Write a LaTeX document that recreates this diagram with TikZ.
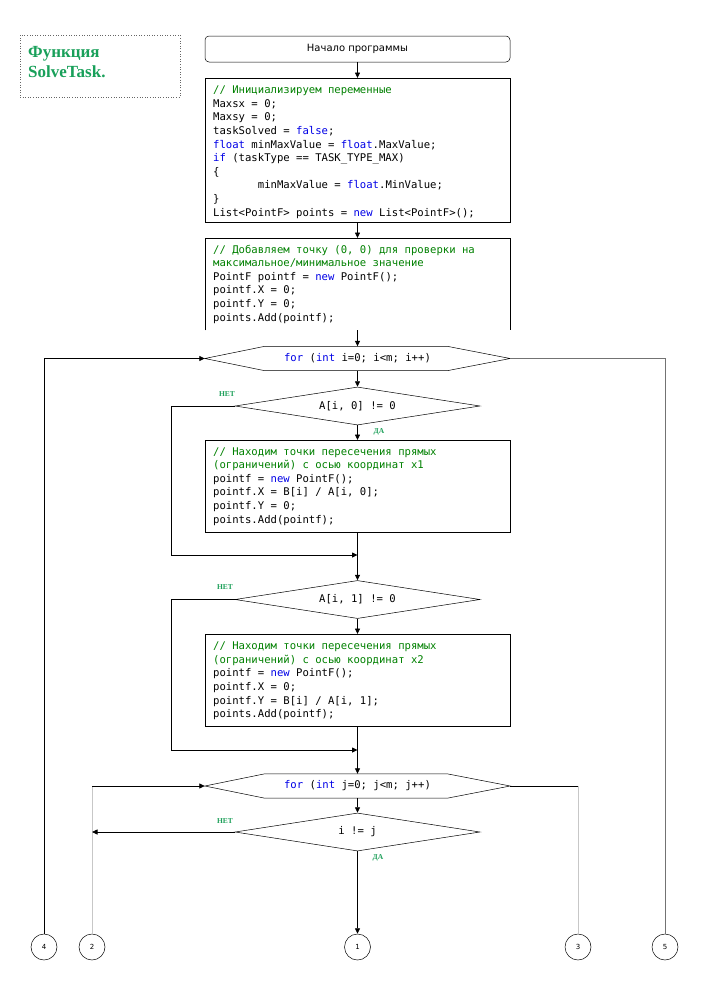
\documentclass[tikz,border=0pt]{standalone}
\usepackage{fontspec}
\setmainfont{Liberation Serif}
\newfontfamily\codefont{DejaVu Sans Mono}
\newfontfamily\uifont{DejaVu Sans}
\usetikzlibrary{arrows.meta,shapes.geometric}
\definecolor{cmtc}{RGB}{0,128,0}
\definecolor{kwc}{RGB}{0,0,230}
\definecolor{lblc}{RGB}{30,160,90}
\definecolor{ttlc}{RGB}{25,160,90}
\newcommand{\cmtx}[1]{\textcolor{cmtc}{#1}}
\newcommand{\kwx}[1]{\textcolor{kwc}{#1}}
\newcommand{\codesel}{\codefont\fontsize{10.6}{13.6}\selectfont}
\newcommand{\codesp}{\spaceskip=\fontcharwd\font`0\relax\xspaceskip=\spaceskip}
\begin{document}
\begin{tikzpicture}[x=1pt,y=-1pt,
  ln/.style={draw=black, line width=0.8pt},
  arr/.style={ln, -{Triangle[length=5.5pt,width=5pt]}},
  frame/.style={draw=black, line width=0.5pt},
  codefnt/.style={font=\codesel},
  codetext/.style={codefnt, text width=292pt, align=left, inner sep=0pt, anchor=base west},
  box/.style={frame, minimum width=305pt, inner sep=0pt, anchor=north},
  hexnode/.style={minimum width=305pt, minimum height=24pt, inner sep=0pt, codefnt},
  decision/.style={diamond, frame, aspect=6.4, minimum width=245pt, minimum height=38pt, inner sep=0pt, codefnt},
  yesno/.style={font=\bfseries\fontsize{7.5}{8}\selectfont, text=lblc, inner sep=0pt},
  conn/.style={circle, frame, minimum size=26pt, inner sep=0pt, font=\uifont\fontsize{7}{8}\selectfont},
  graylink/.style={draw=black!55, line width=0.6pt},
  faintlink/.style={draw=black!22, line width=0.6pt}]
\useasboundingbox (0,0) rectangle (712,1002);

% title
\node (titlebox) [draw=black!60, dotted, line width=0.6pt, minimum width=160pt, minimum height=62pt, inner sep=0pt] at (100,66) {};
\node (title) [anchor=base west, text width=150pt, align=left, inner sep=0pt, font=\bfseries\fontsize{17}{20.5}\selectfont, text=ttlc] at (28,57) {Функция\\SolveTask.};

% start
\node (start) [frame, rounded corners=4pt, minimum width=305pt, minimum height=26pt, inner sep=0pt, font=\uifont\fontsize{10}{12}\selectfont] at (357.5,49) {Начало программы};

% code block 1
\node (box1) [box, minimum height=144pt] at (357.5,78) {};
\node (code1) [codetext] at (213,93.6) {\codesp\cmtx{// Инициализируем переменные}\\
Maxsx = 0;\\
Maxsy = 0;\\
taskSolved = \kwx{false};\\
\kwx{float} minMaxValue = \kwx{float}.MaxValue;\\
\kwx{if} (taskType == TASK\_TYPE\_MAX)\\
\{\\
\phantom{0000000}minMaxValue = \kwx{float}.MinValue;\\
\}\\
List<PointF> points = \kwx{new} List<PointF>();};

% code block 2 (open at the bottom)
\node (box2) [minimum width=305pt, minimum height=92pt, inner sep=0pt, anchor=north] at (357.5,238) {};
\draw[frame] (box2.south west) -- (box2.north west) -- (box2.north east) -- (box2.south east);
\node (code2) [codetext] at (213,253) {\codesp\cmtx{// Добавляем точку (0, 0) для проверки на}\\
\cmtx{максимальное/минимальное значение}\\
PointF pointf = \kwx{new} PointF();\\
pointf.X = 0;\\
pointf.Y = 0;\\
points.Add(pointf);};

% for i hexagon
\node (hex1) [hexnode] at (357.5,358.5) {\codesp\kwx{for} (\kwx{int} i=0; i<m; i++)};
\draw[frame] (hex1.west) -- ([xshift=60pt]hex1.north west) -- ([xshift=-63pt]hex1.north east) -- (hex1.east) -- ([xshift=-63pt]hex1.south east) -- ([xshift=60pt]hex1.south west) -- cycle;

% decision 1
\node (dec1) [decision] at (357.5,406) {\codesp A[i, 0] != 0};
\node (no1) [yesno] at (227,394) {НЕТ};
\node (yes1) [yesno] at (379,432) {ДА};

% code block 3
\node (box3) [box, minimum height=92pt] at (357.5,440) {};
\node (code3) [codetext] at (213,455) {\codesp\cmtx{// Находим точки пересечения прямых}\\
\cmtx{(ограничений) с осью координат x1}\\
pointf = \kwx{new} PointF();\\
pointf.X = B[i] / A[i, 0];\\
pointf.Y = 0;\\
points.Add(pointf);};

% decision 2
\node (dec2) [decision] at (357.5,599.5) {\codesp A[i, 1] != 0};
\node (no2) [yesno] at (225,587) {НЕТ};

% code block 4
\node (box4) [box, minimum height=92pt] at (357.5,634) {};
\node (code4) [codetext] at (213,649.7) {\codesp\cmtx{// Находим точки пересечения прямых}\\
\cmtx{(ограничений) с осью координат x2}\\
pointf = \kwx{new} PointF();\\
pointf.X = 0;\\
pointf.Y = B[i] / A[i, 1];\\
points.Add(pointf);};

% for j hexagon
\node (hex2) [hexnode] at (357.5,786) {\codesp\kwx{for} (\kwx{int} j=0; j<m; j++)};
\draw[frame] (hex2.west) -- ([xshift=60pt]hex2.north west) -- ([xshift=-63pt]hex2.north east) -- (hex2.east) -- ([xshift=-63pt]hex2.south east) -- ([xshift=60pt]hex2.south west) -- cycle;

% decision 3
\node (dec3) [decision] at (357.5,832) {\codesp i != j};
\node (no3) [yesno] at (225,821) {НЕТ};
\node (yes3) [yesno] at (378,858) {ДА};

% connectors (off-page)
\node (c4) [conn] at (44,947) {4};
\node (c2) [conn] at (92,947) {2};
\node (c1) [conn] at (357.5,947) {1};
\node (c3) [conn] at (578,947) {3};
\node (c5) [conn] at (665,947) {5};

% main flow
\draw[arr] (start.south) -- (box1.north);
\draw[arr] (box1.south) -- (box2.north);
\draw[arr] (box2.south) -- (hex1.north);
\draw[arr] (hex1.south) -- (dec1.north);
\draw[arr] (dec1.south) -- (box3.north);
\draw[arr] (box3.south) -- (dec2.north);
\draw[arr] (dec2.south) -- (box4.north);
\draw[arr] (box4.south) -- (hex2.north);
\draw[arr] (hex2.south) -- (dec3.north);
\draw[arr] (dec3.south) -- (c1.north);

% bypass branches
\coordinate (m1) at (357.5,555);
\coordinate (m2) at (357.5,750);
\draw[arr] (dec1.west) -- ++(-63,0) |- (m1);
\draw[arr] (dec2.west) -- ++(-63,0) |- (m2);

% loop connections
\draw[arr] (c4.north) |- (hex1.west);
\draw[graylink] (hex1.east) -| (c5.north);
\coordinate (j2) at (c2.north |- hex2.west);
\draw[faintlink] (c2.north) -- (j2);
\draw[arr] (j2) -- (hex2.west);
\coordinate (j3) at (c3.north |- hex2.east);
\draw[ln] (hex2.east) -- (j3);
\draw[faintlink] (j3) -- (c3.north);
\coordinate (j4) at (c2.north |- dec3.west);
\draw[arr] (dec3.west) -- (j4);
\end{tikzpicture}
\end{document}
